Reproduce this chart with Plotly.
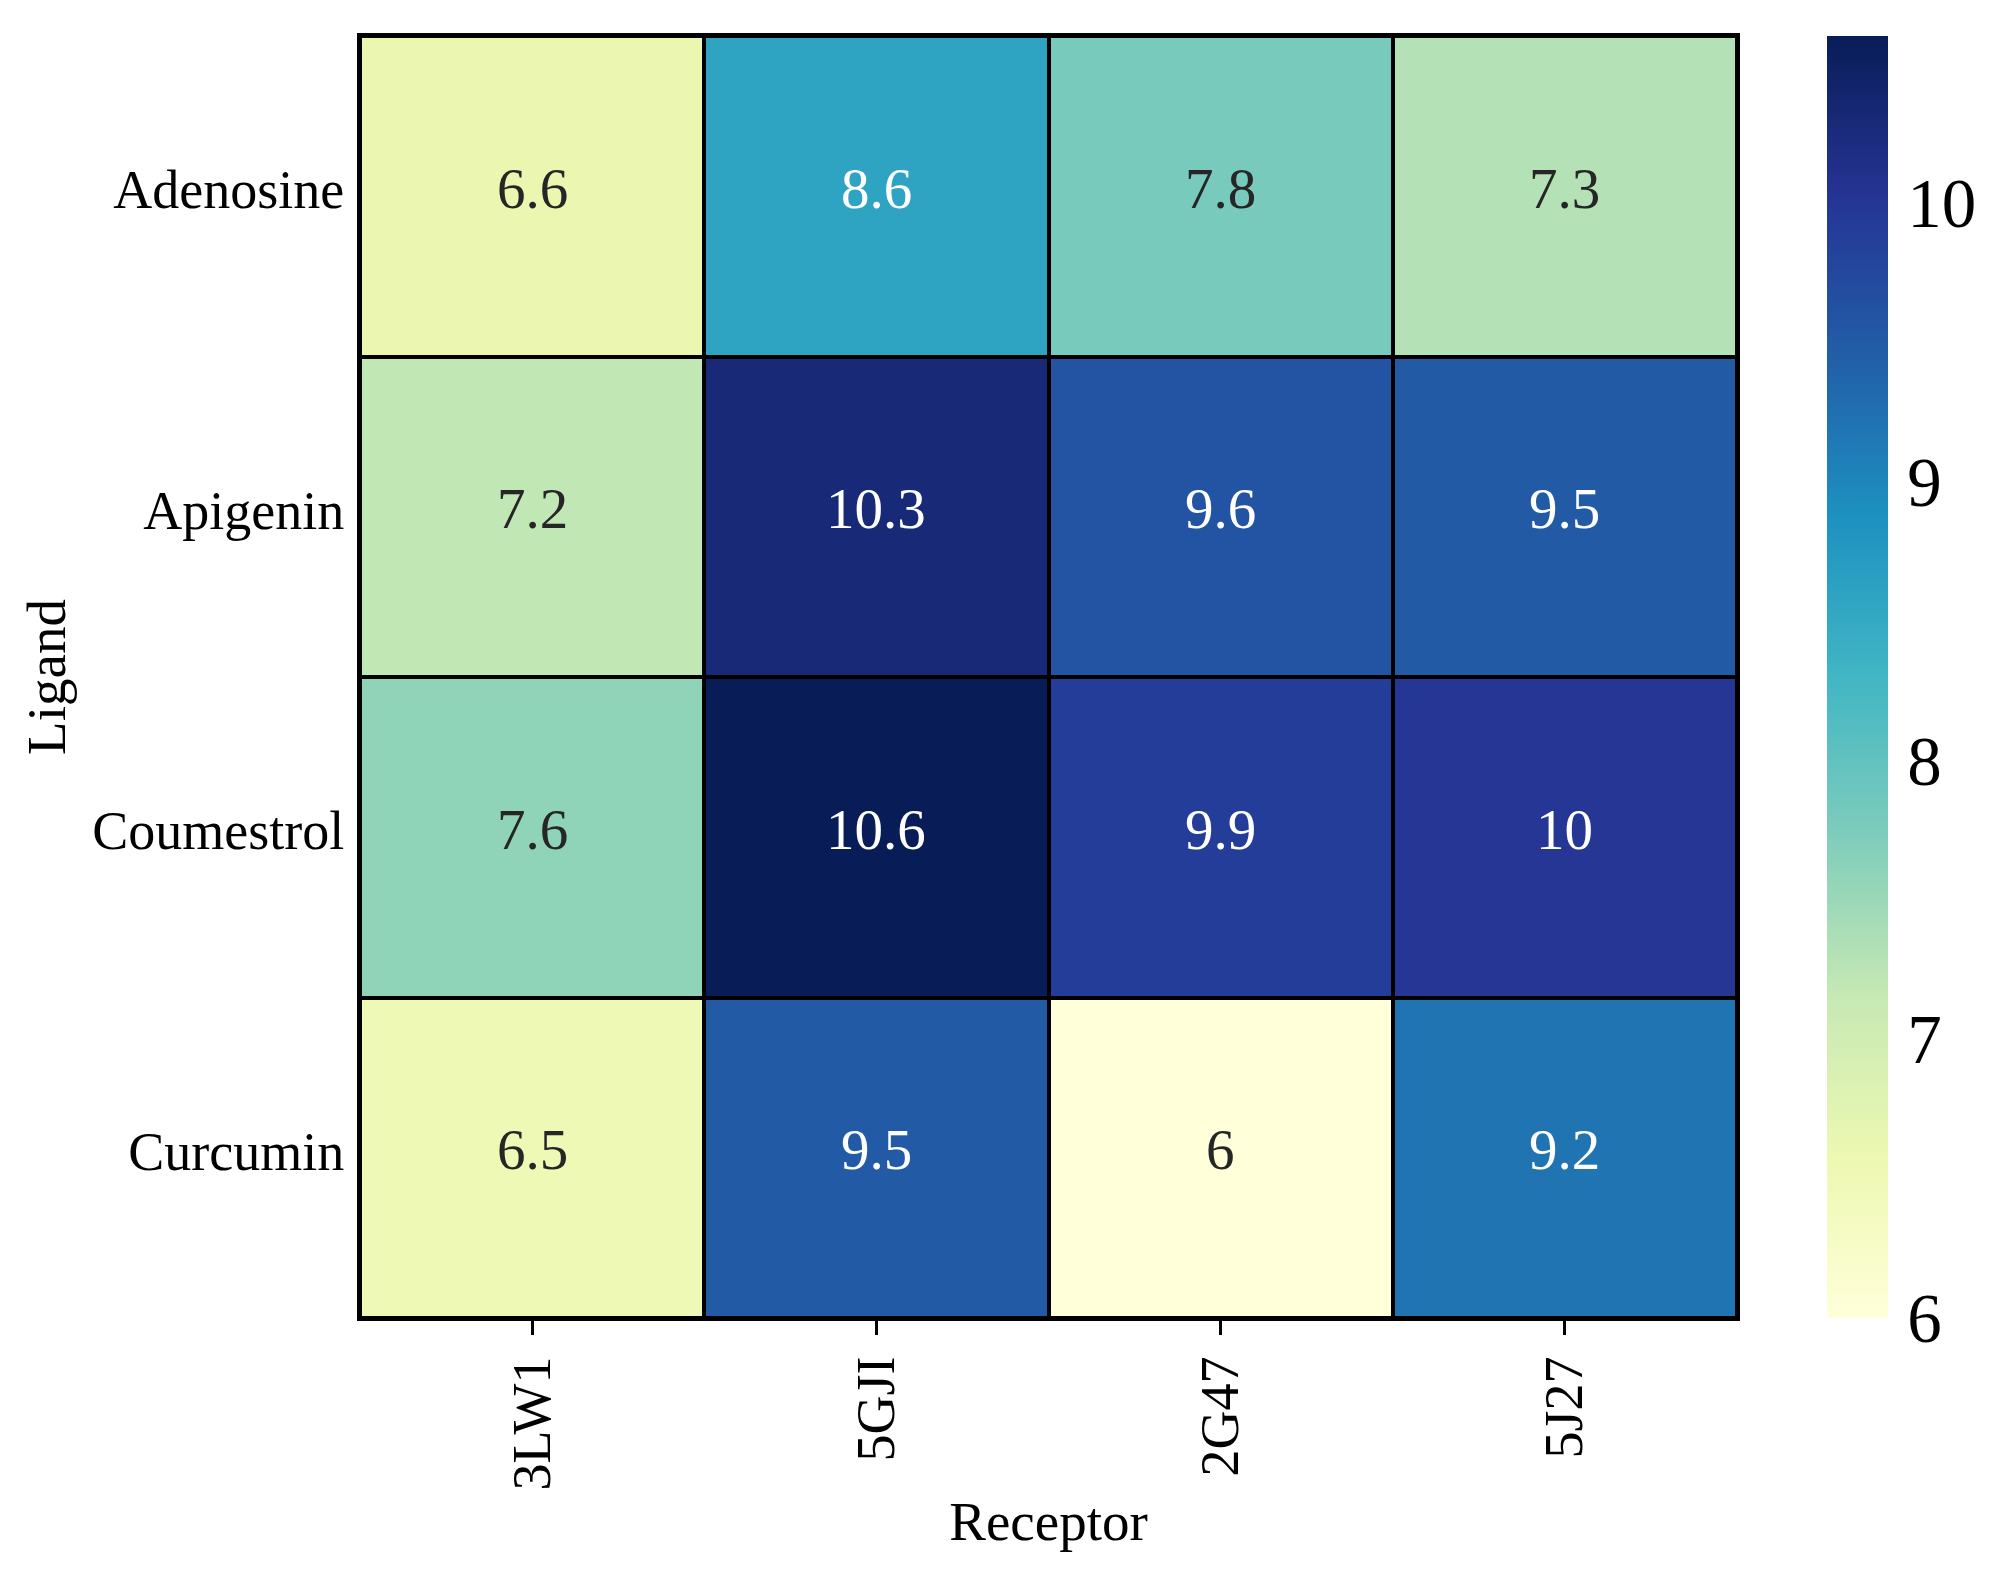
import plotly.graph_objects as go
import plotly.colors as pc

receptors = ["3LW1", "5GJI", "2G47", "5J27"]
ligands = ["Adenosine", "Apigenin", "Coumestrol", "Curcumin"]
adenosine = [6.6, 8.6, 7.8, 7.3]
apigenin = [7.2, 10.3, 9.6, 9.5]
coumestrol = [7.6, 10.6, 9.9, 10.0]
curcumin = [6.5, 9.5, 6.0, 9.2]
z = [adenosine, apigenin, coumestrol, curcumin]
cbar_ticks = [6, 7, 8, 9, 10]

cols = pc.sequential.YlGnBu
scale = [[i / (len(cols) - 1), c] for i, c in enumerate(cols)]
zmin = min(min(r) for r in z)
zmax = max(max(r) for r in z)

FONT = "Liberation Serif"

fig = go.Figure(go.Heatmap(
    z=z, x=receptors, y=ligands,
    colorscale=scale, zmin=zmin, zmax=zmax,
    xgap=4, ygap=4,
    colorbar=dict(
        thickness=61, len=1.0, lenmode="fraction", y=0.5, yanchor="middle",
        x=1.065, xanchor="left", xpad=0, ypad=0, outlinewidth=0,
        tickvals=cbar_ticks, ticks="outside", ticklen=6, tickcolor="rgba(0,0,0,0)",
        tickfont=dict(family=FONT, size=69, color="black"),
    ),
    hoverinfo="skip",
))

def lum(c):
    r, g, b = [v / 255 for v in pc.unlabel_rgb(c)]
    def f(v):
        return v / 12.92 if v <= 0.03928 else ((v + 0.055) / 1.055) ** 2.4
    return 0.2126 * f(r) + 0.7152 * f(g) + 0.0722 * f(b)

for i, lig in enumerate(ligands):
    for j, rec in enumerate(receptors):
        v = z[i][j]
        c = pc.sample_colorscale(scale, (v - zmin) / (zmax - zmin))[0]
        tc = "white" if lum(c) < 0.408 else "#262626"
        fig.add_annotation(x=rec, y=lig, text=format(v, "g"), showarrow=False, yshift=8,
                           font=dict(family=FONT, size=57, color=tc))

fig.update_layout(
    width=1992, height=1570,
    margin=dict(l=352, r=263, t=28, b=260),
    plot_bgcolor="black", paper_bgcolor="white",
    font=dict(family=FONT, color="black"),
)
fig.update_xaxes(
    showline=True, linecolor="black", linewidth=3, mirror=True,
    ticks="outside", ticklen=14, tickwidth=3, tickcolor="black",
    tickangle=-90, tickfont=dict(family=FONT, size=54, color="black"),
    title=dict(text="Receptor", font=dict(family=FONT, size=55, color="black"), standoff=12),
    showgrid=False, zeroline=False,
)
fig.update_yaxes(
    autorange="reversed",
    showline=True, linecolor="black", linewidth=3, mirror=True,
    ticks="outside", ticklen=2, tickcolor="rgba(0,0,0,0)",
    ticklabelshift=7,
    tickfont=dict(family=FONT, size=54, color="black"),
    title=dict(text="Ligand", font=dict(family=FONT, size=55, color="black"), standoff=9),
    showgrid=False, zeroline=False,
)

fig.write_html("out.html")
